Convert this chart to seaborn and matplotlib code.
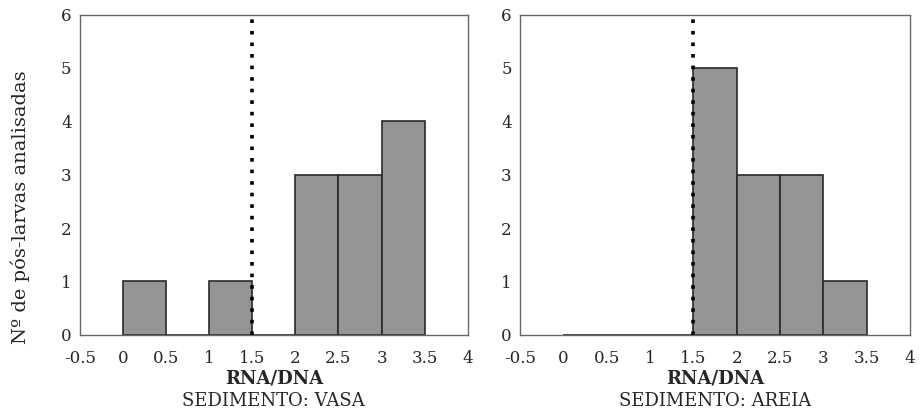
import numpy as np
import matplotlib
matplotlib.use("Agg")
import matplotlib.pyplot as plt
import seaborn as sns

# Histogram bins (RNA/DNA) and counts
bin_edges = [0, 0.5, 1, 1.5, 2, 2.5, 3, 3.5]
vasa_counts = [1, 0, 1, 0, 3, 3, 4]
areia_counts = [0, 0, 0, 5, 3, 3, 1]
x_ticks = [-0.5, 0, 0.5, 1, 1.5, 2, 2.5, 3, 3.5, 4]
y_ticks = [0, 1, 2, 3, 4, 5, 6]
threshold = 1.5
panels = [("SEDIMENTO: VASA", vasa_counts), ("SEDIMENTO: AREIA", areia_counts)]

sns.set_style("white")
plt.rcParams["font.family"] = ["DejaVu Serif"]

fig = plt.figure(figsize=(9.19, 4.18), dpi=100)
axes = [fig.add_axes([0.087, 0.199, 0.422, 0.766]),
        fig.add_axes([0.566, 0.199, 0.424, 0.766])]

centers = [(a + b) / 2 for a, b in zip(bin_edges[:-1], bin_edges[1:])]

for ax, (title, counts) in zip(axes, panels):
    sns.histplot(x=centers, weights=counts, bins=bin_edges, ax=ax,
                 color="#959595", edgecolor="#2a2a2a", linewidth=1.2, alpha=1)
    ax.axvline(threshold, color="black", linestyle=(0, (1, 2.2)), linewidth=2.6)
    ax.set_xlim(-0.5, 4)
    ax.set_ylim(0, 6)
    ax.set_xticks(x_ticks)
    ax.set_xticklabels([f"{t:g}" for t in x_ticks])
    ax.set_yticks(y_ticks)
    ax.tick_params(axis="x", labelsize=12, length=0, pad=11)
    ax.tick_params(axis="y", labelsize=12, length=0, pad=6)
    for s in ax.spines.values():
        s.set_color("#666666")
        s.set_linewidth(1)
    ax.set_xlabel("RNA/DNA", fontsize=13, fontweight="bold", labelpad=2)
    ax.set_ylabel("")
    ax.text(0.5, -0.18, title, transform=ax.transAxes, ha="center", va="top",
            fontsize=13)

axes[0].set_ylabel("Nº de pós-larvas analisadas", fontsize=14)
axes[0].yaxis.set_label_coords(-0.13, 0.4)

fig.savefig("out.png", dpi=100)
